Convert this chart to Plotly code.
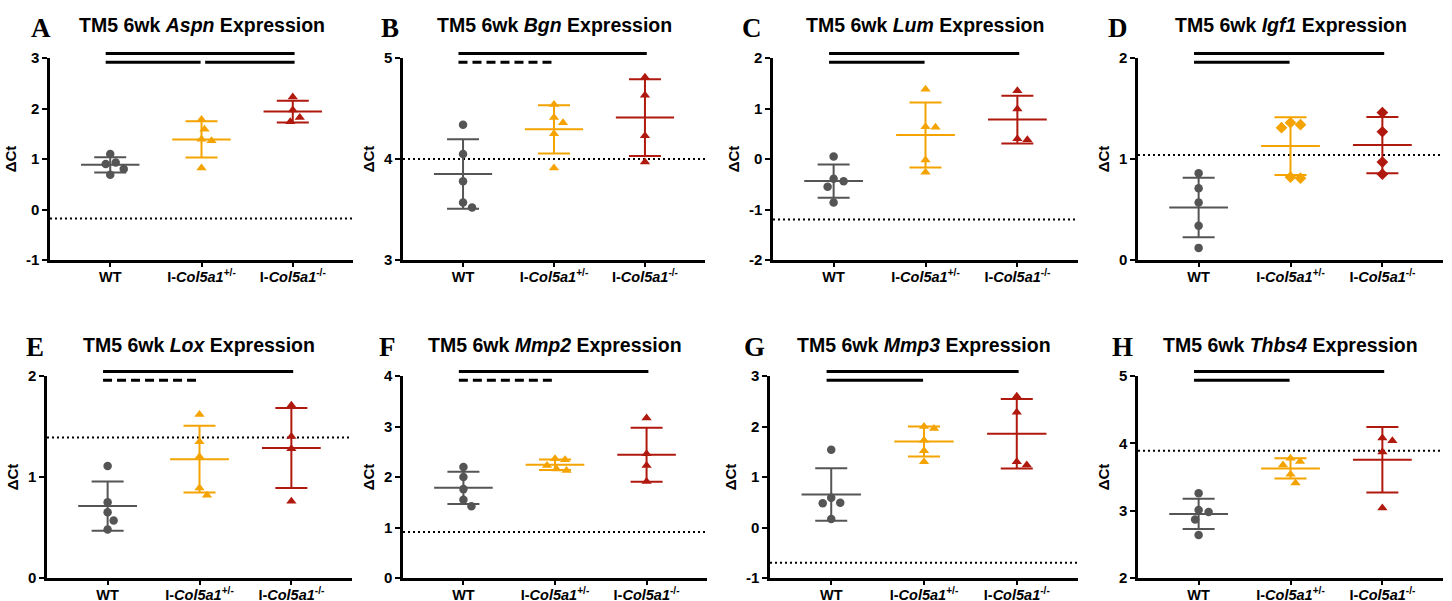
import numpy as np
import plotly.graph_objects as go

# ---------------- data ----------------
GENES = ["Aspn", "Bgn", "Lum", "Igf1", "Lox", "Mmp2", "Mmp3", "Thbs4"]
PANEL_LETTERS = ["A", "B", "C", "D", "E", "F", "G", "H"]
GROUP_LABELS = ["WT", "I-<i>Col5a1</i><sup>+/-</sup>", "I-<i>Col5a1</i><sup>-/-</sup>"]

ASPN_WT = [1.10, 0.93, 0.90, 0.80, 0.69]
ASPN_HET = [1.78, 1.59, 1.39, 1.36, 0.82]
ASPN_HOM = [2.23, 1.97, 1.82, 1.74]

BGN_WT = [4.34, 4.05, 3.78, 3.57, 3.52]
BGN_HET = [4.54, 4.41, 4.36, 4.25, 3.91]
BGN_HOM = [4.81, 4.63, 4.23, 3.97]

LUM_WT = [0.05, -0.39, -0.44, -0.55, -0.86]
LUM_HET = [1.38, 0.64, 0.63, -0.02, -0.26]
LUM_HOM = [1.35, 0.99, 0.40, 0.38]

IGF1_WT = [0.86, 0.71, 0.57, 0.34, 0.12]
IGF1_HET = [1.36, 1.34, 1.31, 0.82, 0.81]
IGF1_HOM = [1.46, 1.27, 0.97, 0.85]

LOX_WT = [1.11, 0.75, 0.65, 0.57, 0.48]
LOX_HET = [1.62, 1.35, 1.20, 0.89, 0.82]
LOX_HOM = [1.71, 1.40, 1.28, 0.76]

MMP2_WT = [2.20, 2.00, 1.76, 1.55, 1.42]
MMP2_HET = [2.36, 2.34, 2.23, 2.16, 2.13]
MMP2_HOM = [3.17, 2.46, 2.23, 1.91]

MMP3_WT = [1.54, 0.59, 0.49, 0.48, 0.17]
MMP3_HET = [2.00, 1.96, 1.73, 1.52, 1.30]
MMP3_HOM = [2.60, 2.28, 1.30, 1.24]

THBS4_WT = [3.26, 3.01, 2.98, 2.87, 2.64]
THBS4_HET = [3.78, 3.73, 3.68, 3.54, 3.41]
THBS4_HOM = [4.08, 4.04, 3.87, 3.04]

PANEL_DATA = [
    [ASPN_WT, ASPN_HET, ASPN_HOM],
    [BGN_WT, BGN_HET, BGN_HOM],
    [LUM_WT, LUM_HET, LUM_HOM],
    [IGF1_WT, IGF1_HET, IGF1_HOM],
    [LOX_WT, LOX_HET, LOX_HOM],
    [MMP2_WT, MMP2_HET, MMP2_HOM],
    [MMP3_WT, MMP3_HET, MMP3_HOM],
    [THBS4_WT, THBS4_HET, THBS4_HOM],
]

# dotted reference line per panel
REFERENCE_LINE = [-0.18, 4.0, -1.2, 1.04, 1.39, 0.91, -0.70, 3.89]

# y tick labels per panel
Y_TICKS = [
    [-1, 0, 1, 2, 3],
    [3, 4, 5],
    [-2, -1, 0, 1, 2],
    [0, 1, 2],
    [0, 1, 2],
    [0, 1, 2, 3, 4],
    [-1, 0, 1, 2, 3],
    [2, 3, 4, 5],
]

# significance bars: (from group, to group, row, style)
SIG_BARS = [
    [(0, 2, "top", "solid"), (0, 1, "low", "solid"), (1, 2, "low", "solid")],
    [(0, 2, "top", "solid"), (0, 1, "low", "dash")],
    [(0, 2, "top", "solid"), (0, 1, "low", "solid")],
    [(0, 2, "top", "solid"), (0, 1, "low", "solid")],
    [(0, 2, "top", "solid"), (0, 1, "low", "dash")],
    [(0, 2, "top", "solid"), (0, 1, "low", "dash")],
    [(0, 2, "top", "solid"), (0, 1, "low", "solid")],
    [(0, 2, "top", "solid"), (0, 1, "low", "solid")],
]

# ---------------- styling / layout ----------------
W, H = 1452, 601
COLORS = ["#555555", "#F4A300", "#B0190E"]
SYMBOLS = ["circle", "triangle-up", "triangle-up"]
SYMBOLS_IGF1 = ["circle", "diamond", "diamond"]
SANS = "Liberation Sans, Arial, sans-serif"
SERIF = "Liberation Serif, Times New Roman, serif"

X_DOMAINS_PX = [(50, 353), (403, 705), (773, 1078), (1138, 1443),
                (47, 352), (403, 707), (770, 1078), (1138, 1443)]
ROW_Y_PX = [(58, 260), (376, 578)]
LETTER_PX = [(41, 28), (390, 28), (752, 28), (1118, 28),
             (35, 347), (387, 347), (754, 347), (1122, 347)]
TITLE_Y_PX = [25, 345]
X_RANGE = [-0.66, 2.66]


def swarm_offsets(values, px_per_x, px_per_y, diam):
    vals = np.asarray(values, dtype=float)
    order = np.argsort(-vals)
    placed = []
    offs = np.zeros(len(vals))
    cands = [0.0]
    for k in range(1, 80):
        cands += [k * 0.5, -k * 0.5]
    for i in order:
        y = vals[i] * px_per_y
        for c in cands:
            if all((c - px) ** 2 + (y - py) ** 2 >= diam ** 2 for px, py in placed):
                break
        placed.append((c, y))
        offs[i] = c / px_per_x
    return offs


fig = go.Figure()
shapes = []
annotations = []
layout_axes = {}

for p in range(8):
    n = p + 1
    sfx = "" if n == 1 else str(n)
    xname, yname = "x" + sfx, "y" + sfx
    row = 0 if p < 4 else 1
    x0px, x1px = X_DOMAINS_PX[p]
    ytop, ybot = ROW_Y_PX[row]
    ticks = Y_TICKS[p]
    lo, hi = ticks[0], ticks[-1]
    px_per_y = (ybot - ytop) / (hi - lo)
    px_per_x = (x1px - x0px) / (X_RANGE[1] - X_RANGE[0])
    syms = SYMBOLS_IGF1 if GENES[p] == "Igf1" else SYMBOLS

    for g, vals in enumerate(PANEL_DATA[p]):
        offs = swarm_offsets(vals, px_per_x, px_per_y, 10.0)
        fig.add_trace(go.Scatter(
            x=g + offs, y=vals, mode="markers", xaxis=xname, yaxis=yname,
            marker=dict(symbol=syms[g], size=8.5 if g == 0 else 9, color=COLORS[g],
                        line=dict(width=0)),
            cliponaxis=False, showlegend=False, hoverinfo="skip"))
    for g, vals in enumerate(PANEL_DATA[p]):
        m = float(np.mean(vals))
        sd = float(np.std(vals, ddof=1))
        fig.add_trace(go.Scatter(
            x=[g], y=[m], mode="markers", xaxis=xname, yaxis=yname,
            marker=dict(size=1, color="rgba(0,0,0,0)"),
            error_y=dict(type="data", array=[sd], symmetric=True, width=16,
                         thickness=2, color=COLORS[g]),
            error_x=dict(type="constant", value=0.32, width=0,
                         thickness=2, color=COLORS[g]),
            cliponaxis=False, showlegend=False, hoverinfo="skip"))

    layout_axes["xaxis" + sfx] = dict(
        domain=[x0px / W, x1px / W], range=X_RANGE, anchor=yname, automargin=False,
        tickvals=[0, 1, 2], ticktext=["<b>%s</b>" % t for t in GROUP_LABELS],
        tickangle=0, tickfont=dict(family=SANS, size=14.5, color="black"),
        ticklabelstandoff=-2,
        showline=True, linewidth=2.5, linecolor="black", ticks="outside",
        ticklen=4, tickwidth=2, tickcolor="black", showgrid=False, zeroline=False,
        fixedrange=True)
    layout_axes["yaxis" + sfx] = dict(
        domain=[1 - ybot / H, 1 - ytop / H], range=[lo, hi], anchor=xname, automargin=False,
        tickvals=ticks, ticktext=["<b>%s</b>" % str(t) for t in ticks],
        tickfont=dict(family=SANS, size=15, color="black"),
        showline=True, linewidth=2.5, linecolor="black", ticks="outside",
        ticklen=5, tickwidth=2, tickcolor="black", showgrid=False, zeroline=False,
        title=dict(text="<b>ΔCt</b>", font=dict(family=SANS, size=15, color="black"),
                   standoff=6),
        fixedrange=True)

    # dotted reference line
    shapes.append(dict(type="line", xref=xname + " domain", yref=yname,
                       x0=0, x1=1, y0=REFERENCE_LINE[p], y1=REFERENCE_LINE[p],
                       line=dict(color="black", width=2, dash="2px,3px"), layer="below"))

    # significance bars
    span_px = ybot - ytop
    for (a, b, r, style) in SIG_BARS[p]:
        xa = a + (-0.05 if a == 0 else 0.04)
        xb = b + (0.02 if b == 2 else -0.01)
        yd = 1 + 4.5 / span_px if r == "top" else 1 - 4.3 / span_px
        shapes.append(dict(type="line", xref=xname + " domain", yref=yname + " domain",
                           x0=(xa - X_RANGE[0]) / (X_RANGE[1] - X_RANGE[0]),
                           x1=(xb - X_RANGE[0]) / (X_RANGE[1] - X_RANGE[0]),
                           y0=yd, y1=yd,
                           line=dict(color="black", width=3,
                                     dash="solid" if style == "solid" else "9px,5px")))

    # title and panel letter
    annotations.append(dict(
        xref="paper", yref="paper", x=(x0px + x1px) / 2 / W, y=1 - TITLE_Y_PX[row] / H,
        text="<b>TM5 6wk <i>%s</i> Expression</b>" % GENES[p], showarrow=False,
        xanchor="center", yanchor="middle", font=dict(family=SANS, size=19.5, color="black")))
    lx, ly = LETTER_PX[p]
    annotations.append(dict(
        xref="paper", yref="paper", x=lx / W, y=1 - ly / H,
        text="<b>%s</b>" % PANEL_LETTERS[p], showarrow=False,
        xanchor="center", yanchor="middle", font=dict(family=SERIF, size=27, color="black")))

fig.update_layout(
    width=W, height=H, margin=dict(l=0, r=0, t=0, b=0, pad=0, autoexpand=False),
    paper_bgcolor="white", plot_bgcolor="white",
    shapes=shapes, annotations=annotations, showlegend=False,
    **layout_axes)

fig.write_html("out.html", include_plotlyjs=True, config={"displayModeBar": False},
               post_script="document.body.style.margin='0';document.body.style.overflow='hidden';")
